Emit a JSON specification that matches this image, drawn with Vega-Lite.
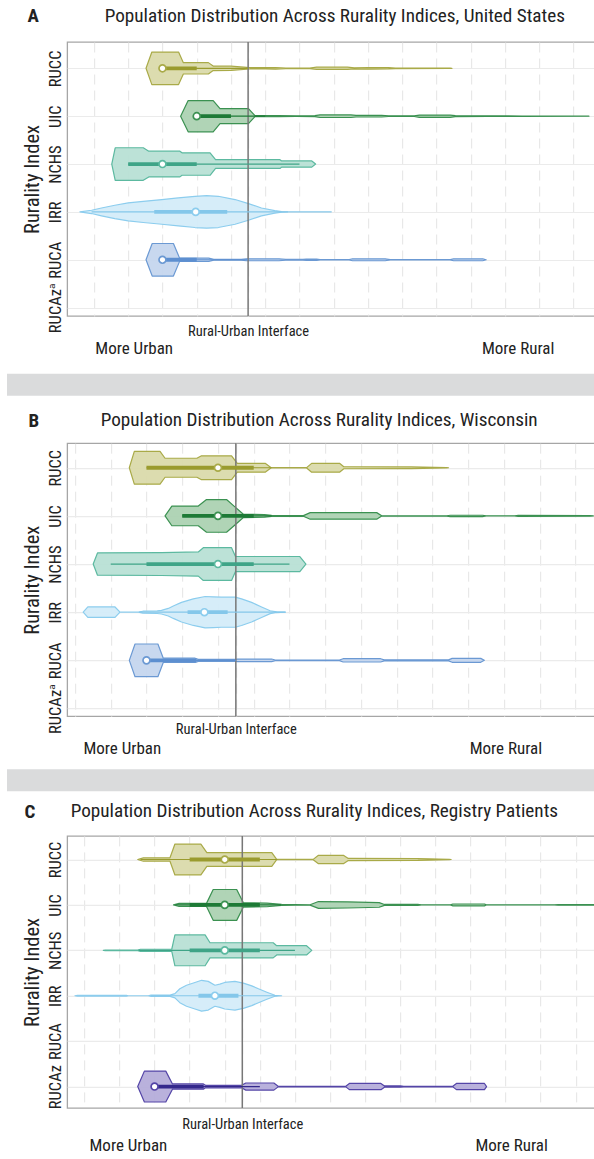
{
  "$schema": "https://vega.github.io/schema/vega-lite/v6.json",
  "background": "white",
  "padding": {"top": 6, "left": 7, "right": 0, "bottom": 0},
  "spacing": 14.2,
  "center": true,
  "config": {
    "font": "Liberation Sans Narrow, Roboto Condensed, DejaVu Sans Condensed, sans-serif",
    "view": {"stroke": "#a6a6a6", "strokeWidth": 1.3},
    "title": {"font": "Liberation Sans Narrow, Roboto Condensed, DejaVu Sans Condensed, sans-serif", "color": "#222222"},
    "axis": {"labelFont": "Liberation Sans Narrow, Roboto Condensed, DejaVu Sans Condensed, sans-serif", "titleFont": "Liberation Sans Narrow, Roboto Condensed, DejaVu Sans Condensed, sans-serif"}
  },
  "datasets": {
    "violin": [
      {"p":"A","i":"RUCC","x":2.52,"d":0},{"p":"A","i":"RUCC","x":2.69,"d":1},{"p":"A","i":"RUCC","x":3.47,"d":1},{"p":"A","i":"RUCC","x":3.61,"d":0.35},{"p":"A","i":"RUCC","x":4.34,"d":0.35},{"p":"A","i":"RUCC","x":4.48,"d":0.14},{"p":"A","i":"RUCC","x":5.0,"d":0.13},{"p":"A","i":"RUCC","x":5.55,"d":0.04},{"p":"A","i":"RUCC","x":6.0,"d":0.04},{"p":"A","i":"RUCC","x":6.3,"d":0.05},{"p":"A","i":"RUCC","x":6.6,"d":0.02},{"p":"A","i":"RUCC","x":7.3,"d":0.02},{"p":"A","i":"RUCC","x":7.5,"d":0.07},{"p":"A","i":"RUCC","x":8.4,"d":0.07},{"p":"A","i":"RUCC","x":8.6,"d":0.03},{"p":"A","i":"RUCC","x":9.0,"d":0.05},{"p":"A","i":"RUCC","x":9.6,"d":0.04},{"p":"A","i":"RUCC","x":9.8,"d":0.02},{"p":"A","i":"RUCC","x":11.4,"d":0.01},{"p":"A","i":"RUCC","x":11.45,"d":0},
      {"p":"A","i":"UIC","x":3.53,"d":0},{"p":"A","i":"UIC","x":3.75,"d":0.96},{"p":"A","i":"UIC","x":4.48,"d":0.96},{"p":"A","i":"UIC","x":4.68,"d":0.46},{"p":"A","i":"UIC","x":5.51,"d":0.46},{"p":"A","i":"UIC","x":5.7,"d":0.03},{"p":"A","i":"UIC","x":6.4,"d":0.03},{"p":"A","i":"UIC","x":6.9,"d":0.02},{"p":"A","i":"UIC","x":7.45,"d":0.03},{"p":"A","i":"UIC","x":7.6,"d":0.08},{"p":"A","i":"UIC","x":8.5,"d":0.08},{"p":"A","i":"UIC","x":8.65,"d":0.05},{"p":"A","i":"UIC","x":9.4,"d":0.05},{"p":"A","i":"UIC","x":9.6,"d":0.02},{"p":"A","i":"UIC","x":10.35,"d":0.02},{"p":"A","i":"UIC","x":10.5,"d":0.07},{"p":"A","i":"UIC","x":11.4,"d":0.07},{"p":"A","i":"UIC","x":11.55,"d":0.03},{"p":"A","i":"UIC","x":12.5,"d":0.02},{"p":"A","i":"UIC","x":13.5,"d":0.01},{"p":"A","i":"UIC","x":15.4,"d":0.005},{"p":"A","i":"UIC","x":15.45,"d":0},
      {"p":"A","i":"NCHS","x":1.52,"d":0},{"p":"A","i":"NCHS","x":1.62,"d":1},{"p":"A","i":"NCHS","x":2.44,"d":1},{"p":"A","i":"NCHS","x":2.6,"d":0.79},{"p":"A","i":"NCHS","x":3.51,"d":0.79},{"p":"A","i":"NCHS","x":3.57,"d":0.69},{"p":"A","i":"NCHS","x":4.39,"d":0.69},{"p":"A","i":"NCHS","x":4.55,"d":0.27},{"p":"A","i":"NCHS","x":6.43,"d":0.27},{"p":"A","i":"NCHS","x":6.48,"d":0.19},{"p":"A","i":"NCHS","x":7.36,"d":0.19},{"p":"A","i":"NCHS","x":7.47,"d":0},
      {"p":"A","i":"IRR","x":0.59,"d":0},{"p":"A","i":"IRR","x":0.93,"d":0.1},{"p":"A","i":"IRR","x":1.22,"d":0.24},{"p":"A","i":"IRR","x":1.61,"d":0.41},{"p":"A","i":"IRR","x":2.0,"d":0.55},{"p":"A","i":"IRR","x":2.44,"d":0.65},{"p":"A","i":"IRR","x":2.98,"d":0.76},{"p":"A","i":"IRR","x":3.46,"d":0.86},{"p":"A","i":"IRR","x":3.95,"d":0.96},{"p":"A","i":"IRR","x":4.29,"d":1},{"p":"A","i":"IRR","x":4.63,"d":0.96},{"p":"A","i":"IRR","x":5.12,"d":0.76},{"p":"A","i":"IRR","x":5.51,"d":0.51},{"p":"A","i":"IRR","x":5.89,"d":0.24},{"p":"A","i":"IRR","x":6.28,"d":0.08},{"p":"A","i":"IRR","x":6.48,"d":0.02},{"p":"A","i":"IRR","x":6.65,"d":0},
      {"p":"A","i":"RUCA","x":2.52,"d":0},{"p":"A","i":"RUCA","x":2.7,"d":1},{"p":"A","i":"RUCA","x":3.32,"d":1},{"p":"A","i":"RUCA","x":3.5,"d":0.1},{"p":"A","i":"RUCA","x":4.35,"d":0.1},{"p":"A","i":"RUCA","x":4.5,"d":0.02},{"p":"A","i":"RUCA","x":5.3,"d":0.02},{"p":"A","i":"RUCA","x":5.45,"d":0.06},{"p":"A","i":"RUCA","x":6.4,"d":0.06},{"p":"A","i":"RUCA","x":6.6,"d":0.02},{"p":"A","i":"RUCA","x":7.1,"d":0.02},{"p":"A","i":"RUCA","x":7.2,"d":0.04},{"p":"A","i":"RUCA","x":7.5,"d":0.04},{"p":"A","i":"RUCA","x":7.6,"d":0.01},{"p":"A","i":"RUCA","x":8.45,"d":0.01},{"p":"A","i":"RUCA","x":8.55,"d":0.06},{"p":"A","i":"RUCA","x":9.5,"d":0.06},{"p":"A","i":"RUCA","x":9.65,"d":0.01},{"p":"A","i":"RUCA","x":11.4,"d":0.01},{"p":"A","i":"RUCA","x":11.5,"d":0.06},{"p":"A","i":"RUCA","x":12.35,"d":0.06},{"p":"A","i":"RUCA","x":12.45,"d":0},
      {"p":"B","i":"RUCC","x":2.52,"d":0},{"p":"B","i":"RUCC","x":2.66,"d":1},{"p":"B","i":"RUCC","x":3.38,"d":1},{"p":"B","i":"RUCC","x":3.52,"d":0.58},{"p":"B","i":"RUCC","x":4.41,"d":0.58},{"p":"B","i":"RUCC","x":4.54,"d":0.73},{"p":"B","i":"RUCC","x":5.38,"d":0.73},{"p":"B","i":"RUCC","x":5.54,"d":0.27},{"p":"B","i":"RUCC","x":6.32,"d":0.27},{"p":"B","i":"RUCC","x":6.48,"d":0.01},{"p":"B","i":"RUCC","x":7.48,"d":0.01},{"p":"B","i":"RUCC","x":7.62,"d":0.27},{"p":"B","i":"RUCC","x":8.4,"d":0.27},{"p":"B","i":"RUCC","x":8.52,"d":0.06},{"p":"B","i":"RUCC","x":10.4,"d":0.05},{"p":"B","i":"RUCC","x":11.4,"d":0.01},{"p":"B","i":"RUCC","x":11.45,"d":0},
      {"p":"B","i":"UIC","x":3.52,"d":0},{"p":"B","i":"UIC","x":3.71,"d":0.6},{"p":"B","i":"UIC","x":4.45,"d":0.6},{"p":"B","i":"UIC","x":4.68,"d":1},{"p":"B","i":"UIC","x":5.24,"d":1},{"p":"B","i":"UIC","x":5.45,"d":0.6},{"p":"B","i":"UIC","x":5.71,"d":0.1},{"p":"B","i":"UIC","x":6.3,"d":0.08},{"p":"B","i":"UIC","x":6.5,"d":0.03},{"p":"B","i":"UIC","x":7.39,"d":0.02},{"p":"B","i":"UIC","x":7.58,"d":0.2},{"p":"B","i":"UIC","x":9.44,"d":0.2},{"p":"B","i":"UIC","x":9.58,"d":0.01},{"p":"B","i":"UIC","x":11.4,"d":0.01},{"p":"B","i":"UIC","x":11.5,"d":0.04},{"p":"B","i":"UIC","x":12.4,"d":0.04},{"p":"B","i":"UIC","x":12.5,"d":0.005},{"p":"B","i":"UIC","x":13.3,"d":0.005},{"p":"B","i":"UIC","x":13.4,"d":0.03},{"p":"B","i":"UIC","x":15.4,"d":0.02},{"p":"B","i":"UIC","x":15.5,"d":0},
      {"p":"B","i":"NCHS","x":1.51,"d":0},{"p":"B","i":"NCHS","x":1.63,"d":0.68},{"p":"B","i":"NCHS","x":3.42,"d":0.7},{"p":"B","i":"NCHS","x":4.45,"d":0.74},{"p":"B","i":"NCHS","x":4.59,"d":1},{"p":"B","i":"NCHS","x":5.38,"d":1},{"p":"B","i":"NCHS","x":5.49,"d":0.46},{"p":"B","i":"NCHS","x":7.29,"d":0.46},{"p":"B","i":"NCHS","x":7.46,"d":0},
      {"p":"B","i":"IRR","x":1.23,"d":0},{"p":"B","i":"IRR","x":1.36,"d":0.32},{"p":"B","i":"IRR","x":2.12,"d":0.32},{"p":"B","i":"IRR","x":2.26,"d":0},{"p":"B","i":"IRR","x":2.77,"d":0},{"p":"B","i":"IRR","x":2.9,"d":0.06},{"p":"B","i":"IRR","x":3.3,"d":0.08},{"p":"B","i":"IRR","x":3.42,"d":0.11},{"p":"B","i":"IRR","x":3.61,"d":0.23},{"p":"B","i":"IRR","x":3.75,"d":0.38},{"p":"B","i":"IRR","x":3.98,"d":0.6},{"p":"B","i":"IRR","x":4.31,"d":0.81},{"p":"B","i":"IRR","x":4.64,"d":0.96},{"p":"B","i":"IRR","x":4.87,"d":0.94},{"p":"B","i":"IRR","x":5.1,"d":0.92},{"p":"B","i":"IRR","x":5.48,"d":0.92},{"p":"B","i":"IRR","x":5.66,"d":0.81},{"p":"B","i":"IRR","x":5.94,"d":0.6},{"p":"B","i":"IRR","x":6.22,"d":0.32},{"p":"B","i":"IRR","x":6.46,"d":0.09},{"p":"B","i":"IRR","x":6.64,"d":0.02},{"p":"B","i":"IRR","x":6.87,"d":0},
      {"p":"B","i":"RUCA","x":2.52,"d":0},{"p":"B","i":"RUCA","x":2.68,"d":1},{"p":"B","i":"RUCA","x":3.32,"d":1},{"p":"B","i":"RUCA","x":3.47,"d":0.13},{"p":"B","i":"RUCA","x":4.36,"d":0.13},{"p":"B","i":"RUCA","x":4.45,"d":0.06},{"p":"B","i":"RUCA","x":5.48,"d":0.06},{"p":"B","i":"RUCA","x":5.55,"d":0.08},{"p":"B","i":"RUCA","x":6.5,"d":0.08},{"p":"B","i":"RUCA","x":6.6,"d":0.02},{"p":"B","i":"RUCA","x":8.4,"d":0.02},{"p":"B","i":"RUCA","x":8.5,"d":0.1},{"p":"B","i":"RUCA","x":9.55,"d":0.1},{"p":"B","i":"RUCA","x":9.65,"d":0.03},{"p":"B","i":"RUCA","x":11.45,"d":0.03},{"p":"B","i":"RUCA","x":11.55,"d":0.12},{"p":"B","i":"RUCA","x":12.35,"d":0.12},{"p":"B","i":"RUCA","x":12.45,"d":0},
      {"p":"C","i":"RUCC","x":2.52,"d":0},{"p":"C","i":"RUCC","x":2.68,"d":0.11},{"p":"C","i":"RUCC","x":3.44,"d":0.11},{"p":"C","i":"RUCC","x":3.58,"d":1},{"p":"C","i":"RUCC","x":4.32,"d":1},{"p":"C","i":"RUCC","x":4.49,"d":0.45},{"p":"C","i":"RUCC","x":6.34,"d":0.45},{"p":"C","i":"RUCC","x":6.48,"d":0.01},{"p":"C","i":"RUCC","x":7.52,"d":0.01},{"p":"C","i":"RUCC","x":7.67,"d":0.27},{"p":"C","i":"RUCC","x":8.38,"d":0.27},{"p":"C","i":"RUCC","x":8.52,"d":0.07},{"p":"C","i":"RUCC","x":10.5,"d":0.06},{"p":"C","i":"RUCC","x":11.4,"d":0.01},{"p":"C","i":"RUCC","x":11.45,"d":0},
      {"p":"C","i":"UIC","x":3.54,"d":0},{"p":"C","i":"UIC","x":3.7,"d":0.1},{"p":"C","i":"UIC","x":4.48,"d":0.1},{"p":"C","i":"UIC","x":4.67,"d":1},{"p":"C","i":"UIC","x":5.34,"d":1},{"p":"C","i":"UIC","x":5.53,"d":0.14},{"p":"C","i":"UIC","x":6.2,"d":0.12},{"p":"C","i":"UIC","x":6.62,"d":0.03},{"p":"C","i":"UIC","x":7.0,"d":0.02},{"p":"C","i":"UIC","x":7.43,"d":0.01},{"p":"C","i":"UIC","x":7.67,"d":0.22},{"p":"C","i":"UIC","x":8.5,"d":0.2},{"p":"C","i":"UIC","x":9.4,"d":0.15},{"p":"C","i":"UIC","x":9.55,"d":0.03},{"p":"C","i":"UIC","x":10.5,"d":0.03},{"p":"C","i":"UIC","x":10.6,"d":0.005},{"p":"C","i":"UIC","x":11.43,"d":0.005},{"p":"C","i":"UIC","x":11.5,"d":0.06},{"p":"C","i":"UIC","x":12.4,"d":0.06},{"p":"C","i":"UIC","x":12.45,"d":0.005},{"p":"C","i":"UIC","x":14.4,"d":0.005},{"p":"C","i":"UIC","x":14.5,"d":0.02},{"p":"C","i":"UIC","x":15.55,"d":0.02},{"p":"C","i":"UIC","x":15.6,"d":0},
      {"p":"C","i":"NCHS","x":1.54,"d":0},{"p":"C","i":"NCHS","x":1.6,"d":0.02},{"p":"C","i":"NCHS","x":2.52,"d":0.02},{"p":"C","i":"NCHS","x":2.6,"d":0.07},{"p":"C","i":"NCHS","x":3.49,"d":0.07},{"p":"C","i":"NCHS","x":3.58,"d":1},{"p":"C","i":"NCHS","x":4.44,"d":1},{"p":"C","i":"NCHS","x":4.58,"d":0.49},{"p":"C","i":"NCHS","x":6.38,"d":0.49},{"p":"C","i":"NCHS","x":6.48,"d":0.3},{"p":"C","i":"NCHS","x":7.33,"d":0.3},{"p":"C","i":"NCHS","x":7.48,"d":0},
      {"p":"C","i":"IRR","x":0.73,"d":0},{"p":"C","i":"IRR","x":0.8,"d":0.02},{"p":"C","i":"IRR","x":2.2,"d":0.02},{"p":"C","i":"IRR","x":2.25,"d":0},{"p":"C","i":"IRR","x":2.82,"d":0},{"p":"C","i":"IRR","x":2.9,"d":0.04},{"p":"C","i":"IRR","x":3.44,"d":0.04},{"p":"C","i":"IRR","x":3.58,"d":0.14},{"p":"C","i":"IRR","x":3.72,"d":0.45},{"p":"C","i":"IRR","x":3.91,"d":0.68},{"p":"C","i":"IRR","x":4.15,"d":0.86},{"p":"C","i":"IRR","x":4.34,"d":1},{"p":"C","i":"IRR","x":4.53,"d":0.93},{"p":"C","i":"IRR","x":4.72,"d":0.68},{"p":"C","i":"IRR","x":4.86,"d":0.75},{"p":"C","i":"IRR","x":5.0,"d":0.86},{"p":"C","i":"IRR","x":5.29,"d":0.93},{"p":"C","i":"IRR","x":5.53,"d":0.82},{"p":"C","i":"IRR","x":5.77,"d":0.64},{"p":"C","i":"IRR","x":5.96,"d":0.45},{"p":"C","i":"IRR","x":6.2,"d":0.23},{"p":"C","i":"IRR","x":6.43,"d":0.03},{"p":"C","i":"IRR","x":6.62,"d":0},
      {"p":"C","i":"RUCAz","x":2.52,"d":0},{"p":"C","i":"RUCAz","x":2.71,"d":1},{"p":"C","i":"RUCAz","x":3.32,"d":1},{"p":"C","i":"RUCAz","x":3.51,"d":0.17},{"p":"C","i":"RUCAz","x":4.39,"d":0.17},{"p":"C","i":"RUCAz","x":4.45,"d":0.08},{"p":"C","i":"RUCAz","x":5.48,"d":0.08},{"p":"C","i":"RUCAz","x":5.6,"d":0.23},{"p":"C","i":"RUCAz","x":6.4,"d":0.23},{"p":"C","i":"RUCAz","x":6.52,"d":0.02},{"p":"C","i":"RUCAz","x":8.45,"d":0.02},{"p":"C","i":"RUCAz","x":8.55,"d":0.2},{"p":"C","i":"RUCAz","x":9.45,"d":0.2},{"p":"C","i":"RUCAz","x":9.55,"d":0.04},{"p":"C","i":"RUCAz","x":10.0,"d":0.04},{"p":"C","i":"RUCAz","x":10.1,"d":0.02},{"p":"C","i":"RUCAz","x":11.5,"d":0.02},{"p":"C","i":"RUCAz","x":11.6,"d":0.2},{"p":"C","i":"RUCAz","x":12.4,"d":0.2},{"p":"C","i":"RUCAz","x":12.46,"d":0}
    ],
    "box": [
      {"p":"A","i":"RUCC","q1":3,"q3":4,"lo":3,"hi":5.5,"med":3},
      {"p":"A","i":"UIC","q1":4,"q3":5,"lo":4,"hi":6,"med":4},
      {"p":"A","i":"NCHS","q1":2,"q3":4,"lo":2,"hi":7,"med":3},
      {"p":"A","i":"IRR","q1":2.76,"q3":4.89,"lo":0.93,"hi":7.94,"med":3.97},
      {"p":"A","i":"RUCA","q1":3,"q3":4,"lo":3,"hi":5.5,"med":3},
      {"p":"B","i":"RUCC","q1":3,"q3":6,"lo":3,"hi":6.5,"med":5},
      {"p":"B","i":"UIC","q1":4,"q3":6,"lo":4,"hi":6.5,"med":5},
      {"p":"B","i":"NCHS","q1":3,"q3":6,"lo":2,"hi":7,"med":5},
      {"p":"B","i":"IRR","q1":4.15,"q3":5.27,"lo":2.8,"hi":6.9,"med":4.62},
      {"p":"B","i":"RUCA","q1":3,"q3":4.4,"lo":3,"hi":5.5,"med":3},
      {"p":"C","i":"RUCC","q1":4,"q3":6,"lo":2.6,"hi":6.5,"med":5},
      {"p":"C","i":"UIC","q1":4,"q3":6,"lo":3.6,"hi":6.6,"med":5},
      {"p":"C","i":"NCHS","q1":4,"q3":6,"lo":2.54,"hi":7,"med":5},
      {"p":"C","i":"IRR","q1":4.25,"q3":5.39,"lo":2.9,"hi":6.5,"med":4.72},
      {"p":"C","i":"RUCAz","q1":3,"q3":4.4,"lo":3,"hi":6,"med":3}
    ],
    "ref": [
      {"p":"A","x":5.5,"label":"Rural-Urban Interface"},
      {"p":"B","x":5.5,"label":"Rural-Urban Interface"},
      {"p":"C","x":5.5,"label":"Rural-Urban Interface"}
    ]
  },
  "vconcat": [
    {
      "spacing": 15.8,
      "center": true,
      "vconcat": [
        {
          "title": {"text": "A", "anchor": "start", "frame": "bounds", "offset": -20, "dx": 6, "fontSize": 19, "fontWeight": "bold"},
          "vconcat": [
            {
              "width": 531, "height": 274,
              "title": {"text": "Population Distribution Across Rurality Indices, United States", "anchor": "start", "frame": "bounds", "dx": 82.5, "offset": 15, "fontSize": 19.2, "fontWeight": "normal"},
              "resolve": {"axis": {"x": "independent", "y": "independent"}},
              "layer": [
                {
                  "data": {"name": "violin"},
                  "transform": [
                    {"filter": "datum.p == 'A'"},
                    {"calculate": "indexof(['RUCAz','RUCA','IRR','NCHS','UIC','RUCC'], datum.i)", "as": "pos"},
                    {"calculate": "datum.pos + 0.34 * datum.d", "as": "top"},
                    {"calculate": "datum.pos - 0.34 * datum.d", "as": "bot"}
                  ],
                  "mark": {"type": "area", "strokeWidth": 1.2, "fillOpacity": 0.92, "strokeJoin": "round"},
                  "encoding": {
                    "x": {"field": "x", "type": "quantitative", "scale": {"domain": [0.218, 15.72], "nice": false, "zero": false},
                      "axis": {"orient": "bottom", "values": [1,2,3,4,5,6,7,8,9,10,11,12,13,14,15,5.5], "labelExpr": "datum.value == 5.5 ? 'Rural-Urban Interface' : ''", "labelFontSize": 14.5, "labelColor": "#222222", "labelPadding": 8, "labelFlush": false, "labelOverlap": false, "labelBound": false, "grid": true, "gridColor": "#e4e4e4", "gridDash": [10, 6], "ticks": false, "domain": false, "title": null}},
                    "y": {"field": "top", "type": "quantitative", "stack": null, "scale": {"domain": [-0.175, 5.55], "nice": false, "zero": false},
                      "axis": {"orient": "left", "values": [0,1,2,3,4,5], "labelExpr": "['RUCAzᵃ','RUCA','IRR','NCHS','UIC','RUCC'][datum.value]", "labelAngle": 270, "labelAlign": "center", "labelBaseline": "bottom", "labelPadding": 4, "labelFontSize": 16.5, "labelColor": "#222222", "labelOverlap": false, "title": "Rurality Index", "titleFontSize": 20.5, "titleFontWeight": "normal", "titleColor": "#222222", "titlePadding": 5, "grid": true, "gridColor": "#ebebeb", "gridWidth": 1.2, "ticks": false, "domain": false}},
                    "y2": {"field": "bot"},
                    "fill": {"field": "i", "type": "nominal", "scale": {"domain": ["RUCC","UIC","NCHS","IRR","RUCA","RUCAz"], "range": ["#d9d9a8","#a9d0b0","#b6e0d4","#d2ecf9","#c3d5ee","#b3aad9"]}, "legend": null},
                    "stroke": {"field": "i", "type": "nominal", "scale": {"domain": ["RUCC","UIC","NCHS","IRR","RUCA","RUCAz"], "range": ["#a9aa48","#3b9151","#5cb9a0","#8ccdee","#6b99d3","#5445a7"]}, "legend": null}
                  }
                },
                {
                  "data": {"name": "ref"},
                  "transform": [{"filter": "datum.p == 'A'"}],
                  "mark": {"type": "rule", "color": "#777777", "strokeWidth": 1.5},
                  "encoding": {
                    "x": {"field": "x", "type": "quantitative", "scale": {"domain": [0.218, 15.72], "nice": false, "zero": false},
                      "axis": {"orient": "bottom", "values": [2.16, 13.37], "labelExpr": "datum.value < 7 ? 'More Urban' : 'More Rural'", "labelFontSize": 17, "labelColor": "#222222", "labelPadding": 24.5, "labelFlush": false, "labelOverlap": false, "grid": false, "ticks": false, "domain": false, "title": null}}
                  }
                },
                {
                  "data": {"name": "box"},
                  "transform": [
                    {"filter": "datum.p == 'A'"},
                    {"calculate": "indexof(['RUCAz','RUCA','IRR','NCHS','UIC','RUCC'], datum.i)", "as": "pos"}
                  ],
                  "layer": [
                    {
                      "mark": {"type": "rule", "strokeWidth": 1.2},
                      "encoding": {
                        "x": {"field": "lo", "type": "quantitative", "scale": {"domain": [0.218, 15.72], "nice": false, "zero": false}, "axis": null},
                        "x2": {"field": "hi"},
                        "y": {"field": "pos", "type": "quantitative", "scale": {"domain": [-0.175, 5.55], "nice": false, "zero": false}, "axis": null},
                        "color": {"field": "i", "type": "nominal", "scale": {"domain": ["RUCC","UIC","NCHS","IRR","RUCA","RUCAz"], "range": ["#9a9b2e","#1d7a36","#3fa487","#84c7ea","#5d8fd0","#34288c"]}, "legend": null}
                      }
                    },
                    {
                      "mark": {"type": "rule", "strokeWidth": 3.8},
                      "encoding": {
                        "x": {"field": "q1", "type": "quantitative", "scale": {"domain": [0.218, 15.72], "nice": false, "zero": false}, "axis": null},
                        "x2": {"field": "q3"},
                        "y": {"field": "pos", "type": "quantitative", "scale": {"domain": [-0.175, 5.55], "nice": false, "zero": false}, "axis": null},
                        "color": {"field": "i", "type": "nominal", "scale": {"domain": ["RUCC","UIC","NCHS","IRR","RUCA","RUCAz"], "range": ["#9a9b2e","#1d7a36","#3fa487","#84c7ea","#5d8fd0","#34288c"]}, "legend": null}
                      }
                    },
                    {
                      "mark": {"type": "circle", "fill": "white", "fillOpacity": 1, "strokeWidth": 1.7, "size": 48, "opacity": 1},
                      "encoding": {
                        "x": {"field": "med", "type": "quantitative", "scale": {"domain": [0.218, 15.72], "nice": false, "zero": false}, "axis": null},
                        "y": {"field": "pos", "type": "quantitative", "scale": {"domain": [-0.175, 5.55], "nice": false, "zero": false}, "axis": null},
                        "stroke": {"field": "i", "type": "nominal", "scale": {"domain": ["RUCC","UIC","NCHS","IRR","RUCA","RUCAz"], "range": ["#a9aa48","#3b9151","#5cb9a0","#8ccdee","#6b99d3","#5445a7"]}, "legend": null}
                      }
                    }
                  ]
                }
              ]
            }
          ]
        },
        {
          "width": 652, "height": 22,
          "data": {"values": [{"b": 0}]},
          "mark": {"type": "point", "opacity": 0},
          "encoding": {},
          "view": {"fill": "#dadbdc", "stroke": null}
        }
      ]
    },
    {
      "spacing": 8.7,
      "center": true,
      "vconcat": [
        {
          "spacing": 11.1,
          "center": true,
          "vconcat": [
            {
              "title": {"text": "B", "anchor": "start", "frame": "bounds", "offset": -20, "dx": 7, "fontSize": 19, "fontWeight": "bold"},
              "vconcat": [
                {
                  "width": 531, "height": 273,
                  "title": {"text": "Population Distribution Across Rurality Indices, Wisconsin", "anchor": "start", "frame": "bounds", "dx": 78.5, "offset": 12, "fontSize": 19.2, "fontWeight": "normal"},
                  "resolve": {"axis": {"x": "independent", "y": "independent"}},
                  "layer": [
                    {
                      "data": {"name": "violin"},
                      "transform": [
                        {"filter": "datum.p == 'B'"},
                        {"calculate": "indexof(['RUCAz','RUCA','IRR','NCHS','UIC','RUCC'], datum.i)", "as": "pos"},
                        {"calculate": "datum.pos + 0.34 * datum.d", "as": "top"},
                        {"calculate": "datum.pos - 0.34 * datum.d", "as": "bot"}
                      ],
                      "mark": {"type": "area", "strokeWidth": 1.2, "fillOpacity": 0.92, "strokeJoin": "round"},
                      "encoding": {
                        "x": {"field": "x", "type": "quantitative", "scale": {"domain": [0.782, 15.635], "nice": false, "zero": false},
                          "axis": {"orient": "bottom", "values": [1,2,3,4,5,6,7,8,9,10,11,12,13,14,15,5.5], "labelExpr": "datum.value == 5.5 ? 'Rural-Urban Interface' : ''", "labelFontSize": 14.5, "labelColor": "#222222", "labelPadding": 6, "labelFlush": false, "labelOverlap": false, "labelBound": false, "grid": true, "gridColor": "#e4e4e4", "gridDash": [10, 6], "ticks": false, "domain": false, "title": null}},
                        "y": {"field": "top", "type": "quantitative", "stack": null, "scale": {"domain": [-0.16, 5.51], "nice": false, "zero": false},
                          "axis": {"orient": "left", "values": [0,1,2,3,4,5], "labelExpr": "['RUCAzᵃ','RUCA','IRR','NCHS','UIC','RUCC'][datum.value]", "labelAngle": 270, "labelAlign": "center", "labelBaseline": "bottom", "labelPadding": 4, "labelFontSize": 16.5, "labelColor": "#222222", "labelOverlap": false, "title": "Rurality Index", "titleFontSize": 20.5, "titleFontWeight": "normal", "titleColor": "#222222", "titlePadding": 5, "grid": true, "gridColor": "#ebebeb", "gridWidth": 1.2, "ticks": false, "domain": false}},
                        "y2": {"field": "bot"},
                        "fill": {"field": "i", "type": "nominal", "scale": {"domain": ["RUCC","UIC","NCHS","IRR","RUCA","RUCAz"], "range": ["#d9d9a8","#a9d0b0","#b6e0d4","#d2ecf9","#c3d5ee","#b3aad9"]}, "legend": null},
                        "stroke": {"field": "i", "type": "nominal", "scale": {"domain": ["RUCC","UIC","NCHS","IRR","RUCA","RUCAz"], "range": ["#a9aa48","#3b9151","#5cb9a0","#8ccdee","#6b99d3","#5445a7"]}, "legend": null}
                      }
                    },
                    {
                      "data": {"name": "ref"},
                      "transform": [{"filter": "datum.p == 'B'"}],
                      "mark": {"type": "rule", "color": "#777777", "strokeWidth": 1.5},
                      "encoding": {
                        "x": {"field": "x", "type": "quantitative", "scale": {"domain": [0.782, 15.635], "nice": false, "zero": false},
                          "axis": {"orient": "bottom", "values": [2.31, 13.04], "labelExpr": "datum.value < 7 ? 'More Urban' : 'More Rural'", "labelFontSize": 17, "labelColor": "#222222", "labelPadding": 24.5, "labelFlush": false, "labelOverlap": false, "grid": false, "ticks": false, "domain": false, "title": null}}
                      }
                    },
                    {
                      "data": {"name": "box"},
                      "transform": [
                        {"filter": "datum.p == 'B'"},
                        {"calculate": "indexof(['RUCAz','RUCA','IRR','NCHS','UIC','RUCC'], datum.i)", "as": "pos"}
                      ],
                      "layer": [
                        {
                          "mark": {"type": "rule", "strokeWidth": 1.2},
                          "encoding": {
                            "x": {"field": "lo", "type": "quantitative", "scale": {"domain": [0.782, 15.635], "nice": false, "zero": false}, "axis": null},
                            "x2": {"field": "hi"},
                            "y": {"field": "pos", "type": "quantitative", "scale": {"domain": [-0.16, 5.51], "nice": false, "zero": false}, "axis": null},
                            "color": {"field": "i", "type": "nominal", "scale": {"domain": ["RUCC","UIC","NCHS","IRR","RUCA","RUCAz"], "range": ["#9a9b2e","#1d7a36","#3fa487","#84c7ea","#5d8fd0","#34288c"]}, "legend": null}
                          }
                        },
                        {
                          "mark": {"type": "rule", "strokeWidth": 3.8},
                          "encoding": {
                            "x": {"field": "q1", "type": "quantitative", "scale": {"domain": [0.782, 15.635], "nice": false, "zero": false}, "axis": null},
                            "x2": {"field": "q3"},
                            "y": {"field": "pos", "type": "quantitative", "scale": {"domain": [-0.16, 5.51], "nice": false, "zero": false}, "axis": null},
                            "color": {"field": "i", "type": "nominal", "scale": {"domain": ["RUCC","UIC","NCHS","IRR","RUCA","RUCAz"], "range": ["#9a9b2e","#1d7a36","#3fa487","#84c7ea","#5d8fd0","#34288c"]}, "legend": null}
                          }
                        },
                        {
                          "mark": {"type": "circle", "fill": "white", "fillOpacity": 1, "strokeWidth": 1.7, "size": 48, "opacity": 1},
                          "encoding": {
                            "x": {"field": "med", "type": "quantitative", "scale": {"domain": [0.782, 15.635], "nice": false, "zero": false}, "axis": null},
                            "y": {"field": "pos", "type": "quantitative", "scale": {"domain": [-0.16, 5.51], "nice": false, "zero": false}, "axis": null},
                            "stroke": {"field": "i", "type": "nominal", "scale": {"domain": ["RUCC","UIC","NCHS","IRR","RUCA","RUCAz"], "range": ["#a9aa48","#3b9151","#5cb9a0","#8ccdee","#6b99d3","#5445a7"]}, "legend": null}
                          }
                        }
                      ]
                    }
                  ]
                }
              ]
            },
            {
              "width": 652, "height": 22,
              "data": {"values": [{"b": 0}]},
              "mark": {"type": "point", "opacity": 0},
              "encoding": {},
              "view": {"fill": "#dadbdc", "stroke": null}
            }
          ]
        },
        {
          "title": {"text": "C", "anchor": "start", "frame": "bounds", "offset": -20, "dx": 3, "fontSize": 19, "fontWeight": "bold"},
          "vconcat": [
            {
              "width": 531, "height": 272,
              "title": {"text": "Population Distribution Across Rurality Indices, Registry Patients", "anchor": "start", "frame": "bounds", "dx": 48.5, "offset": 13.6, "fontSize": 19.2, "fontWeight": "normal"},
              "resolve": {"axis": {"x": "independent", "y": "independent"}},
              "layer": [
                {
                  "data": {"name": "violin"},
                  "transform": [
                    {"filter": "datum.p == 'C'"},
                    {"calculate": "indexof(['RUCAz','RUCA','IRR','NCHS','UIC','RUCC'], datum.i)", "as": "pos"},
                    {"calculate": "datum.pos + 0.34 * datum.d", "as": "top"},
                    {"calculate": "datum.pos - 0.34 * datum.d", "as": "bot"}
                  ],
                  "mark": {"type": "area", "strokeWidth": 1.2, "fillOpacity": 0.92, "strokeJoin": "round"},
                  "encoding": {
                    "x": {"field": "x", "type": "quantitative", "scale": {"domain": [0.51, 15.64], "nice": false, "zero": false},
                      "axis": {"orient": "bottom", "values": [1,2,3,4,5,6,7,8,9,10,11,12,13,14,15,5.5], "labelExpr": "datum.value == 5.5 ? 'Rural-Urban Interface' : ''", "labelFontSize": 14.5, "labelColor": "#222222", "labelPadding": 10, "labelFlush": false, "labelOverlap": false, "labelBound": false, "grid": true, "gridColor": "#e4e4e4", "gridDash": [10, 6], "ticks": false, "domain": false, "title": null}},
                    "y": {"field": "top", "type": "quantitative", "stack": null, "scale": {"domain": [-0.47, 5.52], "nice": false, "zero": false},
                      "axis": {"orient": "left", "values": [0,1,2,3,4,5], "labelExpr": "['RUCAz','RUCA','IRR','NCHS','UIC','RUCC'][datum.value]", "labelAngle": 270, "labelAlign": "center", "labelBaseline": "bottom", "labelPadding": 4, "labelFontSize": 16.5, "labelColor": "#222222", "labelOverlap": false, "title": "Rurality Index", "titleFontSize": 20.5, "titleFontWeight": "normal", "titleColor": "#222222", "titlePadding": 5, "grid": true, "gridColor": "#ebebeb", "gridWidth": 1.2, "ticks": false, "domain": false}},
                    "y2": {"field": "bot"},
                    "fill": {"field": "i", "type": "nominal", "scale": {"domain": ["RUCC","UIC","NCHS","IRR","RUCA","RUCAz"], "range": ["#d9d9a8","#a9d0b0","#b6e0d4","#d2ecf9","#c3d5ee","#b3aad9"]}, "legend": null},
                    "stroke": {"field": "i", "type": "nominal", "scale": {"domain": ["RUCC","UIC","NCHS","IRR","RUCA","RUCAz"], "range": ["#a9aa48","#3b9151","#5cb9a0","#8ccdee","#6b99d3","#5445a7"]}, "legend": null}
                  }
                },
                {
                  "data": {"name": "ref"},
                  "transform": [{"filter": "datum.p == 'C'"}],
                  "mark": {"type": "rule", "color": "#777777", "strokeWidth": 1.5},
                  "encoding": {
                    "x": {"field": "x", "type": "quantitative", "scale": {"domain": [0.51, 15.64], "nice": false, "zero": false},
                      "axis": {"orient": "bottom", "values": [2.24, 13.16], "labelExpr": "datum.value < 7 ? 'More Urban' : 'More Rural'", "labelFontSize": 17, "labelColor": "#222222", "labelPadding": 30, "labelFlush": false, "labelOverlap": false, "grid": false, "ticks": false, "domain": false, "title": null}}
                  }
                },
                {
                  "data": {"name": "box"},
                  "transform": [
                    {"filter": "datum.p == 'C'"},
                    {"calculate": "indexof(['RUCAz','RUCA','IRR','NCHS','UIC','RUCC'], datum.i)", "as": "pos"}
                  ],
                  "layer": [
                    {
                      "mark": {"type": "rule", "strokeWidth": 1.2},
                      "encoding": {
                        "x": {"field": "lo", "type": "quantitative", "scale": {"domain": [0.51, 15.64], "nice": false, "zero": false}, "axis": null},
                        "x2": {"field": "hi"},
                        "y": {"field": "pos", "type": "quantitative", "scale": {"domain": [-0.47, 5.52], "nice": false, "zero": false}, "axis": null},
                        "color": {"field": "i", "type": "nominal", "scale": {"domain": ["RUCC","UIC","NCHS","IRR","RUCA","RUCAz"], "range": ["#9a9b2e","#1d7a36","#3fa487","#84c7ea","#5d8fd0","#34288c"]}, "legend": null}
                      }
                    },
                    {
                      "mark": {"type": "rule", "strokeWidth": 3.8},
                      "encoding": {
                        "x": {"field": "q1", "type": "quantitative", "scale": {"domain": [0.51, 15.64], "nice": false, "zero": false}, "axis": null},
                        "x2": {"field": "q3"},
                        "y": {"field": "pos", "type": "quantitative", "scale": {"domain": [-0.47, 5.52], "nice": false, "zero": false}, "axis": null},
                        "color": {"field": "i", "type": "nominal", "scale": {"domain": ["RUCC","UIC","NCHS","IRR","RUCA","RUCAz"], "range": ["#9a9b2e","#1d7a36","#3fa487","#84c7ea","#5d8fd0","#34288c"]}, "legend": null}
                      }
                    },
                    {
                      "mark": {"type": "circle", "fill": "white", "fillOpacity": 1, "strokeWidth": 1.7, "size": 48, "opacity": 1},
                      "encoding": {
                        "x": {"field": "med", "type": "quantitative", "scale": {"domain": [0.51, 15.64], "nice": false, "zero": false}, "axis": null},
                        "y": {"field": "pos", "type": "quantitative", "scale": {"domain": [-0.47, 5.52], "nice": false, "zero": false}, "axis": null},
                        "stroke": {"field": "i", "type": "nominal", "scale": {"domain": ["RUCC","UIC","NCHS","IRR","RUCA","RUCAz"], "range": ["#a9aa48","#3b9151","#5cb9a0","#8ccdee","#6b99d3","#5445a7"]}, "legend": null}
                      }
                    }
                  ]
                }
              ]
            }
          ]
        }
      ]
    }
  ]
}
